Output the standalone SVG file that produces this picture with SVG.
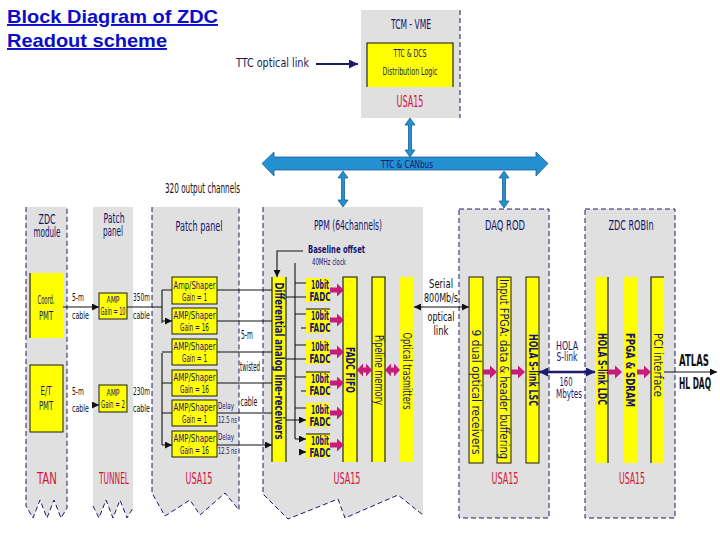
<svg xmlns="http://www.w3.org/2000/svg" width="720" height="540" viewBox="0 0 720 540">
<style>
text{font-family:"Liberation Sans Narrow","DejaVu Sans Condensed","Liberation Sans",Arial,sans-serif;fill:#16166e}
.t{font-size:12px}
.s{font-size:11px}
.xs{font-size:8px}
.h{font-size:14px}
.red{fill:#d4143c;font-size:16px}
.blk{fill:#111}
.m{text-anchor:middle}
.panel{fill:#e0e0e0}
.dash{fill:none;stroke:#1a1a6a;stroke-width:1;stroke-dasharray:5 3}
.y{fill:#ffff00;stroke:#1a1a1a;stroke-width:1}
.yn{fill:#ffff00}
.ln{fill:none;stroke:#111;stroke-width:1.1}
.mag{fill:#c71c7a}
.bus{fill:#2390d2;stroke:#1b5e9a;stroke-width:0.8}
</style>
<defs>
<marker id="ah" viewBox="0 0 10 10" refX="10" refY="5" markerWidth="7" markerHeight="7" orient="auto-start-reverse" markerUnits="userSpaceOnUse"><path d="M0,0L10,5L0,10Z" fill="#111"/></marker>
<marker id="ahn" viewBox="0 0 10 10" refX="10" refY="5" markerWidth="9" markerHeight="9" orient="auto-start-reverse" markerUnits="userSpaceOnUse"><path d="M0,0L10,5L0,10Z" fill="#1a1a6e"/></marker>
<path id="mArr" d="M0,-2.5H7V-6.5L14,0L7,6.5V2.5H0Z"/>
<path id="mDbl" d="M0,0L6,-6.5V-2.5H9V-6.5L15,0L9,6.5V2.5H6V6.5Z"/>
</defs>

<g id="title">
<text x="7" y="23" style="font-family:'Liberation Sans',Arial,sans-serif;font-weight:bold;font-size:19px;fill:#0b0bc8;text-decoration:underline" textLength="211" lengthAdjust="spacingAndGlyphs">Block Diagram of ZDC</text>
<text x="7" y="47" style="font-family:'Liberation Sans',Arial,sans-serif;font-weight:bold;font-size:19px;fill:#0b0bc8;text-decoration:underline" textLength="160" lengthAdjust="spacingAndGlyphs">Readout scheme</text>
</g>

<!-- panels -->
<g id="panel-tcm">
<rect x="361" y="10" width="99" height="108" class="panel"/>
<path d="M460,10V118" class="dash"/>
<text x="411" y="29" class="h m" textLength="40" lengthAdjust="spacingAndGlyphs">TCM - VME</text>
<path d="M367,87V43H453V87Z" class="yn"/>
<path d="M367,87V43H453V87" class="ln"/>
<text x="410" y="57" class="s m" textLength="33" lengthAdjust="spacingAndGlyphs">TTC &amp; DCS</text>
<text x="410" y="75" class="s m" textLength="55" lengthAdjust="spacingAndGlyphs">Distribution Logic</text>
<text x="410" y="107" class="red m" textLength="27" lengthAdjust="spacingAndGlyphs">USA15</text>
</g>

<g id="panel-zdc-module">
<path d="M26,207H67V508L61,518L54,500L47,518L40,500L33,518L26,506Z" class="panel"/>
<path d="M26,207V506L33,518L40,500L47,518L54,500L61,518L67,508V207" class="dash"/>
<text x="47" y="224" class="h m" textLength="17" lengthAdjust="spacingAndGlyphs">ZDC</text>
<text x="47" y="237" class="h m" textLength="27" lengthAdjust="spacingAndGlyphs">module</text>
<text x="47" y="484" class="red m" textLength="20" lengthAdjust="spacingAndGlyphs">TAN</text>
</g>
<g id="coord-pmt">
<rect x="30" y="273" width="33" height="65" class="yn"/>
<path d="M30,273V338" class="ln"/>
<text x="46" y="304" class="t m" textLength="17" lengthAdjust="spacingAndGlyphs">Coord.</text>
<text x="46" y="320" class="t m" textLength="14" lengthAdjust="spacingAndGlyphs">PMT</text>
</g>
<g id="et-pmt">
<rect x="30" y="365" width="33" height="67" class="y"/>
<text x="46" y="395" class="t m" textLength="11" lengthAdjust="spacingAndGlyphs">E/T</text>
<text x="46" y="410" class="t m" textLength="14" lengthAdjust="spacingAndGlyphs">PMT</text>
</g>

<g id="panel-tunnel">
<path d="M93,207H133V508L127,518L120,500L113,518L106,500L99,518L93,506Z" class="panel"/>
<path d="M93,506L99,518L106,500L113,518L120,500L127,518L133,508" class="dash"/>
<text x="114" y="223" class="h m" textLength="21" lengthAdjust="spacingAndGlyphs">Patch</text>
<text x="113" y="236" class="h m" textLength="20" lengthAdjust="spacingAndGlyphs">panel</text>
<text x="114" y="484" class="red m" textLength="30" lengthAdjust="spacingAndGlyphs">TUNNEL</text>
</g>
<g id="amp-10">
<rect x="99" y="293" width="28" height="26" class="y"/>
<text x="113" y="303" class="xs m" textLength="13" lengthAdjust="spacingAndGlyphs">AMP</text>
<text x="113" y="315" class="s m" textLength="25" lengthAdjust="spacingAndGlyphs">Gain = 10</text>
</g>
<g id="amp-2">
<rect x="99" y="385" width="28" height="27" class="y"/>
<text x="113" y="396" class="xs m" textLength="13" lengthAdjust="spacingAndGlyphs">AMP</text>
<text x="113" y="408" class="s m" textLength="24" lengthAdjust="spacingAndGlyphs">Gain = 2</text>
</g>

<g id="panel-patch-usa15">
<path d="M152,207H239V510L225,493L200,515L190,500L165,516L152,493Z" class="panel"/>
<path d="M152,207V493L165,516L190,500L200,515L225,493L239,510V207" class="dash"/>
<text x="199" y="231" class="h m" textLength="47" lengthAdjust="spacingAndGlyphs">Patch  panel</text>
<text x="199" y="484" class="red m" textLength="27" lengthAdjust="spacingAndGlyphs">USA15</text>
</g>
<g id="shapers">
<rect x="172" y="277" width="45" height="27" class="y"/>
<text x="194.5" y="289" class="s m" textLength="42" lengthAdjust="spacingAndGlyphs">Amp/Shaper</text>
<text x="194.5" y="301" class="s m" textLength="25" lengthAdjust="spacingAndGlyphs">Gain = 1</text>
<rect x="172" y="308" width="45" height="26" class="y"/>
<text x="194.5" y="319" class="s m" textLength="42" lengthAdjust="spacingAndGlyphs">AMP/Shaper</text>
<text x="194.5" y="331" class="s m" textLength="29" lengthAdjust="spacingAndGlyphs">Gain = 16</text>
<rect x="172" y="339" width="45" height="26" class="y"/>
<text x="194.5" y="350" class="s m" textLength="42" lengthAdjust="spacingAndGlyphs">AMP/Shaper</text>
<text x="194.5" y="362" class="s m" textLength="25" lengthAdjust="spacingAndGlyphs">Gain = 1</text>
<rect x="172" y="370" width="45" height="26" class="y"/>
<text x="194.5" y="381" class="s m" textLength="42" lengthAdjust="spacingAndGlyphs">AMP/Shaper</text>
<text x="194.5" y="393" class="s m" textLength="29" lengthAdjust="spacingAndGlyphs">Gain = 16</text>
<rect x="172" y="400" width="45" height="26" class="y"/>
<text x="194.5" y="411" class="s m" textLength="42" lengthAdjust="spacingAndGlyphs">AMP/Shaper</text>
<text x="194.5" y="423" class="s m" textLength="25" lengthAdjust="spacingAndGlyphs">Gain = 1</text>
<rect x="172" y="431" width="45" height="26" class="y"/>
<text x="194.5" y="442" class="s m" textLength="42" lengthAdjust="spacingAndGlyphs">AMP/Shaper</text>
<text x="194.5" y="454" class="s m" textLength="29" lengthAdjust="spacingAndGlyphs">Gain = 16</text>
<text x="218" y="409" class="xs" textLength="16" lengthAdjust="spacingAndGlyphs">Delay</text>
<text x="218" y="423" class="xs" textLength="19" lengthAdjust="spacingAndGlyphs">12.5 ns</text>
<text x="218" y="440" class="xs" textLength="16" lengthAdjust="spacingAndGlyphs">Delay</text>
<text x="218" y="454" class="xs" textLength="19" lengthAdjust="spacingAndGlyphs">12.5 ns</text>
</g>

<g id="panel-ppm">
<path d="M263,207H423V515L398,495L345,518L338,499L288,519L263,494Z" class="panel"/>
<path d="M263,207V494L288,519L338,499L345,518L398,495L423,515" class="dash"/>
<text x="348" y="230" class="h m" textLength="68" lengthAdjust="spacingAndGlyphs">PPM (64channels)</text>
<text x="347" y="484" class="red m" textLength="27" lengthAdjust="spacingAndGlyphs">USA15</text>
<text x="308" y="253" class="s" style="font-weight:bold" textLength="57" lengthAdjust="spacingAndGlyphs">Baseline offset</text>
<text x="312" y="265" class="xs" textLength="34" lengthAdjust="spacingAndGlyphs">40MHz clock</text>
</g>
<g id="line-receivers">
<rect x="272" y="277" width="14" height="185" class="yn"/>
<path d="M272,277V462M286,277V462" class="ln"/>
<text transform="translate(279,361) rotate(90)" class="t m" dy="4" style="font-weight:bold" textLength="157" lengthAdjust="spacingAndGlyphs">Differential analog line-receivers</text>
</g>
<g id="fadcs">
<rect x="306" y="278" width="24" height="24" class="yn"/>
<rect x="306" y="309" width="24" height="24" class="yn"/>
<rect x="306" y="340" width="24" height="24" class="yn"/>
<rect x="306" y="372" width="24" height="24" class="yn"/>
<rect x="306" y="403" width="24" height="24" class="yn"/>
<rect x="306" y="434" width="24" height="24" class="yn"/>
<path d="M306,309H330M306,372H330M306,434H330" class="ln"/>
<g class="t m" style="font-weight:bold">
<text x="320" y="289" class="m" textLength="18" lengthAdjust="spacingAndGlyphs">10bit</text>
<text x="320" y="301" class="m" textLength="21" lengthAdjust="spacingAndGlyphs">FADC</text>
<text x="320" y="320" class="m" textLength="18" lengthAdjust="spacingAndGlyphs">10bit</text>
<text x="320" y="332" class="m" textLength="21" lengthAdjust="spacingAndGlyphs">FADC</text>
<text x="320" y="351" class="m" textLength="18" lengthAdjust="spacingAndGlyphs">10bit</text>
<text x="320" y="363" class="m" textLength="21" lengthAdjust="spacingAndGlyphs">FADC</text>
<text x="320" y="383" class="m" textLength="18" lengthAdjust="spacingAndGlyphs">10bit</text>
<text x="320" y="395" class="m" textLength="21" lengthAdjust="spacingAndGlyphs">FADC</text>
<text x="320" y="414" class="m" textLength="18" lengthAdjust="spacingAndGlyphs">10bit</text>
<text x="320" y="426" class="m" textLength="21" lengthAdjust="spacingAndGlyphs">FADC</text>
<text x="320" y="445" class="m" textLength="18" lengthAdjust="spacingAndGlyphs">10bit</text>
<text x="320" y="457" class="m" textLength="21" lengthAdjust="spacingAndGlyphs">FADC</text>
</g>
</g>
<g id="fadc-fifo">
<rect x="343" y="277" width="14" height="185" class="yn"/>
<path d="M343,462V277H357V462" class="ln"/>
<text transform="translate(350,370) rotate(90)" class="t m" dy="4" style="font-weight:bold" textLength="46" lengthAdjust="spacingAndGlyphs">FADC FIFO</text>
</g>
<g id="pipeline-memory">
<rect x="372" y="277" width="13" height="185" class="yn"/>
<path d="M372,462V277H385V462" class="ln"/>
<text transform="translate(378.5,370) rotate(90)" class="t m" dy="4" textLength="70" lengthAdjust="spacingAndGlyphs">Pipeline memory</text>
</g>
<g id="optical-transmitters">
<rect x="400" y="277" width="14" height="185" class="yn"/>
<text transform="translate(407,371) rotate(90)" class="t m" dy="4" textLength="77" lengthAdjust="spacingAndGlyphs">Optical trasmitters</text>
</g>

<g id="panel-daq-rod">
<rect x="459" y="209" width="90" height="309" class="panel"/>
<rect x="459" y="209" width="90" height="309" class="dash"/>
<text x="505" y="230" class="h m" textLength="40" lengthAdjust="spacingAndGlyphs">DAQ  ROD</text>
<text x="505" y="484" class="red m" textLength="27" lengthAdjust="spacingAndGlyphs">USA15</text>
<rect x="469" y="277" width="14" height="186" class="y"/>
<text transform="translate(476,392) rotate(90)" class="t m" dy="4" textLength="125" lengthAdjust="spacingAndGlyphs">9 dual optical receivers</text>
<rect x="497" y="277" width="14" height="186" class="y"/>
<text transform="translate(504,369) rotate(90)" class="t m" dy="4" textLength="180" lengthAdjust="spacingAndGlyphs">Input FPGA: data &amp; header buffering</text>
<rect x="526" y="277" width="13" height="186" class="y"/>
<text transform="translate(532.5,370) rotate(90)" class="t m" dy="4" style="font-weight:bold" textLength="72" lengthAdjust="spacingAndGlyphs">HOLA S-link LSC</text>
</g>

<g id="panel-zdc-robin">
<rect x="585" y="209" width="90" height="309" class="panel"/>
<rect x="585" y="209" width="90" height="309" class="dash"/>
<text x="631" y="230" class="h m" textLength="45" lengthAdjust="spacingAndGlyphs">ZDC ROBIn</text>
<text x="632" y="484" class="red m" textLength="26" lengthAdjust="spacingAndGlyphs">USA15</text>
<rect x="595" y="277" width="13" height="186" class="yn"/>
<path d="M608,277V463" class="ln"/>
<text transform="translate(601.5,369) rotate(90)" class="t m" dy="4" style="font-weight:bold" textLength="72" lengthAdjust="spacingAndGlyphs">HOLA S-link LDC</text>
<rect x="623" y="277" width="14" height="186" class="yn"/>
<text transform="translate(630,370) rotate(90)" class="t m" dy="4" style="font-weight:bold" textLength="74" lengthAdjust="spacingAndGlyphs">FPGA &amp; SDRAM</text>
<rect x="651" y="277" width="13" height="186" class="yn"/>
<path d="M651,463V277H664" class="ln"/>
<text transform="translate(657.5,365) rotate(90)" class="t m" dy="4" textLength="64" lengthAdjust="spacingAndGlyphs">PCI interface</text>
</g>

<g id="labels">
<text x="236" y="67" class="t" style="fill:#1a1a50" textLength="73" lengthAdjust="spacingAndGlyphs">TTC optical link</text>
<text x="165" y="193" class="h blk" textLength="75" lengthAdjust="spacingAndGlyphs">320 output channels</text>
<text x="72" y="301" class="s blk" textLength="12" lengthAdjust="spacingAndGlyphs">5-m</text>
<text x="72" y="319" class="s blk" textLength="17" lengthAdjust="spacingAndGlyphs">cable</text>
<text x="72" y="395" class="s blk" textLength="12" lengthAdjust="spacingAndGlyphs">5-m</text>
<text x="72" y="412" class="s blk" textLength="17" lengthAdjust="spacingAndGlyphs">cable</text>
<text x="133" y="301" class="s blk" textLength="17" lengthAdjust="spacingAndGlyphs">350m</text>
<text x="133" y="319" class="s blk" textLength="17" lengthAdjust="spacingAndGlyphs">cable</text>
<text x="133" y="395" class="s blk" textLength="17" lengthAdjust="spacingAndGlyphs">230m</text>
<text x="133" y="412" class="s blk" textLength="17" lengthAdjust="spacingAndGlyphs">cable</text>
<text x="247" y="339" class="t blk m" textLength="12" lengthAdjust="spacingAndGlyphs">5-m</text>
<text x="250" y="371" class="t blk m" textLength="20" lengthAdjust="spacingAndGlyphs">twisted</text>
<text x="249" y="406" class="t blk m" textLength="17" lengthAdjust="spacingAndGlyphs">cable</text>
<text x="441" y="288" class="t blk m" textLength="24" lengthAdjust="spacingAndGlyphs">Serial</text>
<text x="441" y="302" class="t blk m" textLength="34" lengthAdjust="spacingAndGlyphs">800Mb/s</text>
<text x="441" y="321" class="t blk m" textLength="27" lengthAdjust="spacingAndGlyphs">optical</text>
<text x="441" y="335" class="t blk m" textLength="15" lengthAdjust="spacingAndGlyphs">link</text>
<text x="567" y="350" class="t m" textLength="22" lengthAdjust="spacingAndGlyphs">HOLA</text>
<text x="567" y="361" class="t m" textLength="21" lengthAdjust="spacingAndGlyphs">S-link</text>
<text x="566" y="386" class="t m" textLength="13" lengthAdjust="spacingAndGlyphs">160</text>
<text x="569" y="398" class="t m" textLength="26" lengthAdjust="spacingAndGlyphs">Mbytes</text>
<text x="694" y="366" class="blk m" style="font-size:15px;font-weight:bold" textLength="30" lengthAdjust="spacingAndGlyphs">ATLAS</text>
<text x="695" y="389" class="blk m" style="font-size:15px;font-weight:bold" textLength="32" lengthAdjust="spacingAndGlyphs">HL DAQ</text>
</g>

<g id="connectors">
<path class="bus" d="M262,163.5L274,152V157H536V152L548,163.5L536,176V170H274V176Z"/>
<text x="407" y="168" class="m" style="font-size:10px;fill:#16166e" textLength="52" lengthAdjust="spacingAndGlyphs">TTC &amp; CANbus</text>
<path class="bus" d="M410,118L415,125H411.5V150H415L410,157L405,150H408.5V125H405Z"/>
<path class="bus" d="M343,171L348,178H344.5V200H348L343,207L338,200H341.5V178H338Z"/>
<path class="bus" d="M504,171L509,178H505.5V201H509L504,208L499,201H502.5V178H499Z"/>
<path d="M316,64H358" stroke="#1a1a6e" stroke-width="2" marker-end="url(#ahn)"/>
<path d="M63,307H99" class="ln" marker-end="url(#ah)"/>
<path d="M94,405H99" class="ln" marker-end="url(#ah)"/>
<path d="M127,307H162M162,290V323" class="ln"/>
<path d="M162,290H172M162,321H172" class="ln" marker-end="url(#ah)"/>
<path d="M162,353V445" class="ln"/>
<path d="M162,352H172M162,383H172M162,413H172M162,445H172" class="ln" marker-end="url(#ah)"/>
<path d="M217,290H272M217,321H272M217,352H272M217,383H272M217,413H272M217,445H272" class="ln" marker-end="url(#ah)"/>
<path d="M303,251H277V277" class="ln" marker-end="url(#ah)"/>
<path d="M295,263V439" class="ln"/>
<path d="M295,283H306M295,314H306M295,345H306M295,377H306M295,408H306M295,439H306" class="ln" marker-end="url(#ah)"/>
<path d="M286,297H306M286,359H306M286,420H306" class="ln" marker-end="url(#ah)"/>
<path d="M301,328H306M301,391H306M301,452H306" class="ln" marker-end="url(#ah)"/>
<g class="mag">
<use href="#mArr" x="330" y="290"/>
<use href="#mArr" x="330" y="320"/>
<use href="#mArr" x="330" y="352"/>
<use href="#mArr" x="330" y="383"/>
<use href="#mArr" x="330" y="413"/>
<use href="#mArr" x="330" y="445"/>
<use href="#mDbl" x="357" y="370"/>
<use href="#mDbl" x="385" y="370"/>
<use href="#mArr" x="483" y="372"/>
<use href="#mArr" x="511" y="372"/>
<use href="#mArr" x="608" y="372"/>
<use href="#mArr" x="637" y="372"/>
</g>
<path d="M414,307H469" class="ln" marker-start="url(#ah)" marker-end="url(#ah)"/>
<path d="M539,372H595" stroke="#1a1a6e" stroke-width="2.5" marker-start="url(#ahn)" marker-end="url(#ahn)"/>
<path d="M664,372H717" class="ln" marker-end="url(#ah)"/>
</g>
</svg>
